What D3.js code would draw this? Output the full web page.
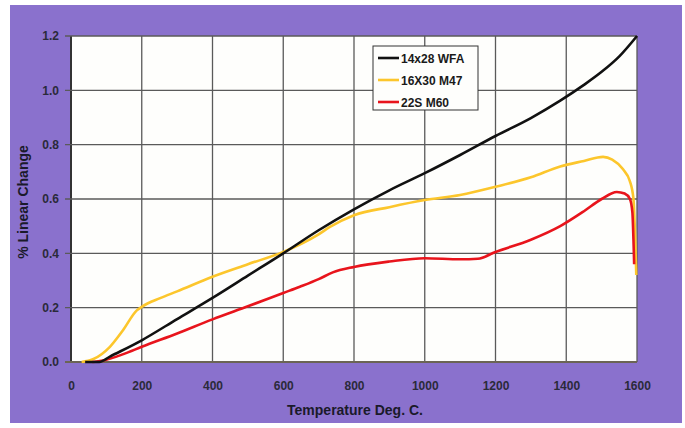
<!DOCTYPE html>
<html><head><meta charset="utf-8">
<script src="https://cdn.jsdelivr.net/npm/d3@7/dist/d3.min.js"></script>
<style>body{margin:0;background:#fff}svg{display:block}</style>
</head><body>
<script>
const xTicks = [0, 200, 400, 600, 800, 1000, 1200, 1400, 1600];
const yTicks = [0.0, 0.2, 0.4, 0.6, 0.8, 1.0, 1.2];
const seriesNames = ["14x28 WFA", "16X30 M47", "22S M60"];
const seriesColors = ["#111111", "#fcc62c", "#e8141c"];

const blackT = [40, 80, 110, 200, 300, 400, 500, 600, 700, 800, 900, 1000, 1100, 1200, 1300, 1383, 1450, 1500, 1550, 1600];
const blackV = [0, 0.0, 0.02, 0.08, 0.158, 0.236, 0.318, 0.40, 0.485, 0.562, 0.632, 0.695, 0.762, 0.832, 0.898, 0.962, 1.02, 1.068, 1.125, 1.2];

const yellowT = [30, 62, 110, 147, 186, 200, 252, 300, 400, 500, 600, 700, 732, 800, 900, 1000, 1100, 1200, 1300, 1383, 1450, 1504, 1530, 1560, 1580, 1590, 1595, 1598];
const yellowV = [0, 0.01, 0.056, 0.117, 0.19, 0.203, 0.235, 0.26, 0.314, 0.36, 0.405, 0.47, 0.497, 0.54, 0.57, 0.596, 0.615, 0.645, 0.68, 0.72, 0.74, 0.755, 0.745, 0.71, 0.665, 0.6, 0.45, 0.32];

const redT = [60, 90, 150, 200, 300, 400, 500, 600, 647, 700, 740, 800, 900, 1000, 1100, 1150, 1200, 1300, 1383, 1450, 1500, 1543, 1565, 1580, 1587, 1590, 1592];
const redV = [0, 0.005, 0.03, 0.056, 0.105, 0.157, 0.205, 0.254, 0.277, 0.305, 0.33, 0.35, 0.37, 0.382, 0.378, 0.38, 0.405, 0.45, 0.50, 0.555, 0.6, 0.626, 0.62, 0.60, 0.55, 0.45, 0.36];

const W = 685, H = 428;
const m = {left: 71, right: 637, top: 36, bottom: 362};
const svg = d3.select("body").append("svg").attr("width", W).attr("height", H);

svg.append("rect").attr("x", 10).attr("y", 5).attr("width", 672).attr("height", 418).attr("fill", "#8a71cd");

const x = d3.scaleLinear().domain([0, 1600]).range([m.left, m.right]);
const y = d3.scaleLinear().domain([0, 1.2]).range([m.bottom, m.top]);

svg.append("rect").attr("x", m.left).attr("y", m.top).attr("width", m.right - m.left).attr("height", m.bottom - m.top).attr("fill", "#fefefc");

const g = svg.append("g");
g.selectAll(".vg").data(xTicks).join("line")
  .attr("x1", d => x(d)).attr("x2", d => x(d)).attr("y1", m.top).attr("y2", m.bottom)
  .attr("stroke", d => d === 0 ? "#333" : "#5a5a5a").attr("stroke-width", d => d === 0 ? 2 : 1.3);
g.selectAll(".hg").data(yTicks).join("line")
  .attr("x1", m.left - 6).attr("x2", m.right).attr("y1", d => y(d)).attr("y2", d => y(d))
  .attr("stroke", d => d === 0 ? "#6b6455" : "#5a5a5a").attr("stroke-width", d => d === 0 ? 2 : 1.3);

const xa = svg.append("g").attr("transform", `translate(0,${m.bottom})`)
  .call(d3.axisBottom(x).tickValues(xTicks).tickSize(0).tickPadding(19).tickFormat(d3.format("d")));
xa.select(".domain").remove();
xa.selectAll("text").attr("font-family", "Liberation Sans, Arial, sans-serif").attr("font-weight", "bold").attr("font-size", 12).attr("fill", "#2a2a3a");

const ya = svg.append("g").attr("transform", `translate(${m.left},0)`)
  .call(d3.axisLeft(y).tickValues(yTicks).tickSize(0).tickPadding(12).tickFormat(d3.format(".1f")));
ya.select(".domain").remove();
ya.selectAll("text").attr("font-family", "Liberation Sans, Arial, sans-serif").attr("font-weight", "bold").attr("font-size", 12).attr("fill", "#2a2a3a");

const line = d3.line().x(d => x(d[0])).y(d => y(d[1])).curve(d3.curveMonotoneX);
const series = [
  d3.zip(blackT, blackV),
  d3.zip(yellowT, yellowV),
  d3.zip(redT, redV)
];
[1, 2, 0].forEach(i => {
  svg.append("path").datum(series[i]).attr("d", line).attr("fill", "none")
    .attr("stroke", seriesColors[i]).attr("stroke-width", 2.6).attr("stroke-linejoin", "round");
});

// legend
const lg = svg.append("g");
lg.append("rect").attr("x", 373).attr("y", 46).attr("width", 105).attr("height", 64)
  .attr("fill", "#fefefc").attr("stroke", "#333").attr("stroke-width", 1);
seriesNames.forEach((n, i) => {
  const yy = 58 + i * 22;
  lg.append("line").attr("x1", 378).attr("x2", 399).attr("y1", yy).attr("y2", yy)
    .attr("stroke", seriesColors[i]).attr("stroke-width", 2.6);
  lg.append("text").attr("x", 401).attr("y", yy + 4.5).text(n)
    .attr("font-family", "Liberation Sans, Arial, sans-serif").attr("font-weight", "bold").attr("font-size", 12).attr("fill", "#1a1a1a");
});

svg.append("text").attr("x", 355).attr("y", 415).attr("text-anchor", "middle").text("Temperature Deg. C.")
  .attr("font-family", "Liberation Sans, Arial, sans-serif").attr("font-weight", "bold").attr("font-size", 14).attr("fill", "#1a1a2a");
svg.append("text").attr("transform", "translate(28,202) rotate(-90)").attr("text-anchor", "middle").text("% Linear Change")
  .attr("font-family", "Liberation Sans, Arial, sans-serif").attr("font-weight", "bold").attr("font-size", 14).attr("fill", "#1a1a2a");
</script>
</body></html>
